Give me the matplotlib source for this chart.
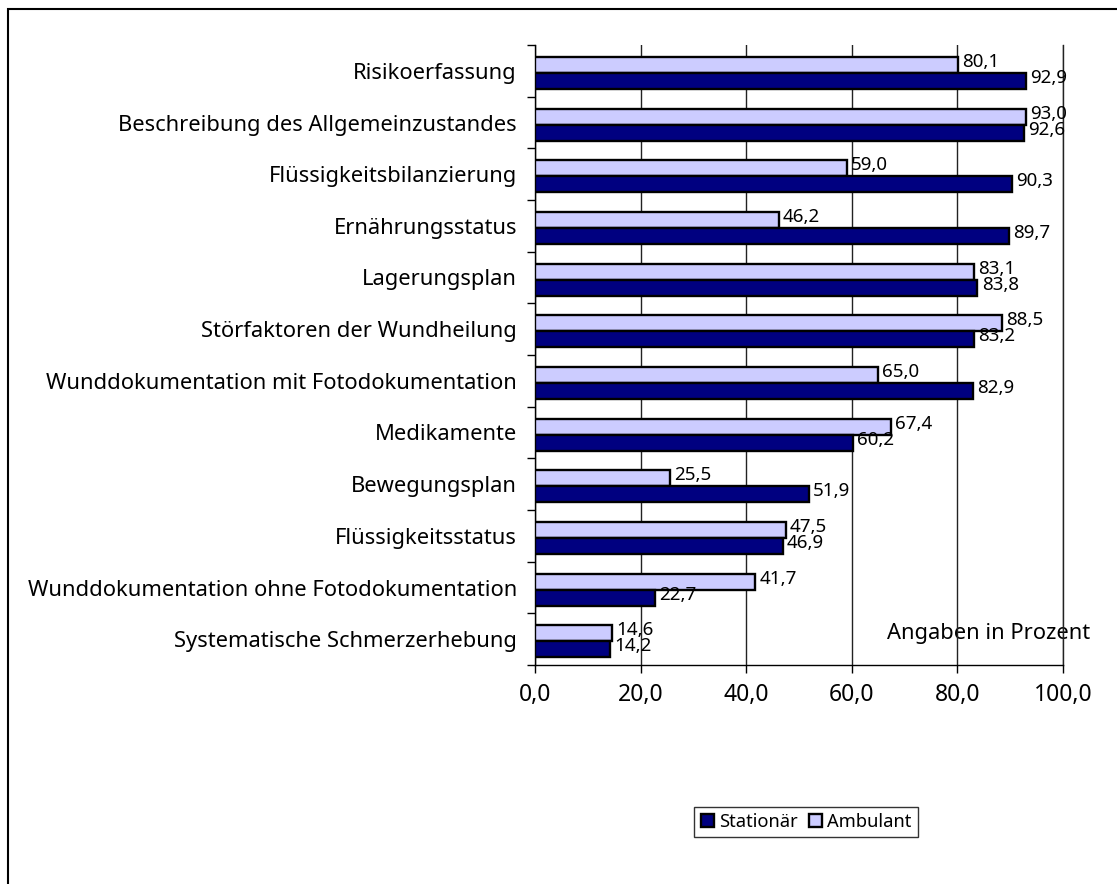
import numpy as np
import matplotlib.pyplot as plt
from matplotlib.patches import Rectangle, Patch

plt.rcParams['font.family'] = ['Noto Sans', 'DejaVu Sans']

# Data (top to bottom)
categories = [
    "Risikoerfassung",
    "Beschreibung des Allgemeinzustandes",
    "Flüssigkeitsbilanzierung",
    "Ernährungsstatus",
    "Lagerungsplan",
    "Störfaktoren der Wundheilung",
    "Wunddokumentation mit Fotodokumentation",
    "Medikamente",
    "Bewegungsplan",
    "Flüssigkeitsstatus",
    "Wunddokumentation ohne Fotodokumentation",
    "Systematische Schmerzerhebung",
]
ambulant = [80.1, 93.0, 59.0, 46.2, 83.1, 88.5, 65.0, 67.4, 25.5, 47.5, 41.7, 14.6]
stationaer = [92.9, 92.6, 90.3, 89.7, 83.8, 83.2, 82.9, 60.2, 51.9, 46.9, 22.7, 14.2]
x_ticks = [0, 20, 40, 60, 80, 100]

dark = '#000080'
light = '#CCCCFF'

fig = plt.figure(figsize=(11.17, 8.84), dpi=100)
ax = fig.add_axes([535/1117, 1-665/884, (1063-535)/1117, (665-45)/884])

y = np.arange(len(categories))
h = 0.31
off = 0.04
ax.barh(y - h/2 + off, ambulant, height=h, color=light, edgecolor='black', linewidth=1.7, zorder=3)
ax.barh(y + h/2 + off, stationaer, height=h, color=dark, edgecolor='black', linewidth=1.7, zorder=3)

# value labels
for i in range(len(categories)):
    ax.annotate(f"{ambulant[i]:.1f}".replace('.', ','), (ambulant[i], y[i] - h/2 + off),
                xytext=(3, 2), textcoords='offset points', va='center', ha='left',
                fontsize=13.5, zorder=4)
    ax.annotate(f"{stationaer[i]:.1f}".replace('.', ','), (stationaer[i], y[i] + h/2 + off),
                xytext=(3, 2), textcoords='offset points', va='center', ha='left',
                fontsize=13.5, zorder=4)

ax.set_xlim(0, 100)
ax.set_ylim(len(categories) - 0.5, -0.5)
ax.set_xticks(x_ticks)
ax.set_xticklabels([f"{v:.1f}".replace('.', ',') for v in x_ticks], fontsize=16.5)
ax.set_yticks(y)
ax.set_yticklabels(categories, fontsize=15.8)
ax.set_yticks(np.arange(len(categories) + 1) - 0.5, minor=True)
ax.tick_params(axis='y', which='major', length=0, pad=13)
ax.tick_params(axis='y', which='minor', length=6, direction='out', width=1)
ax.tick_params(axis='x', length=6, direction='out', width=1, pad=7)

ax.set_axisbelow(True)
ax.grid(axis='x', color='#222222', linewidth=1)
ax.spines['top'].set_visible(False)
ax.spines['right'].set_color('#222222')
for s in ['left', 'bottom', 'right']:
    ax.spines[s].set_linewidth(1)

ax.text(887/1117, 1-634/884, "Angaben in Prozent", transform=fig.transFigure,
        fontsize=15.8, va='center', ha='left', zorder=0.2, clip_on=False)

handles = [Patch(facecolor=dark, edgecolor='black', linewidth=1.7, label='Stationär'),
           Patch(facecolor=light, edgecolor='black', linewidth=1.7, label='Ambulant')]
leg = fig.legend(handles=handles, loc='center', bbox_to_anchor=(806/1117, 1-822/884),
                 ncol=2, fontsize=13.2, frameon=True, fancybox=False, handlelength=0.75,
                 handleheight=0.75, handletextpad=0.25, columnspacing=0.6,
                 borderpad=0.35, borderaxespad=0, edgecolor='black')
leg.get_frame().set_linewidth(1)

# outer border (cut off at right and bottom)
fig.patches.append(Rectangle((8/1117, -0.1), 1.2, 1.1 - 9/884, transform=fig.transFigure,
                             fill=False, edgecolor='black', linewidth=1.5))

fig.savefig('out.png', dpi=100, facecolor='white')
